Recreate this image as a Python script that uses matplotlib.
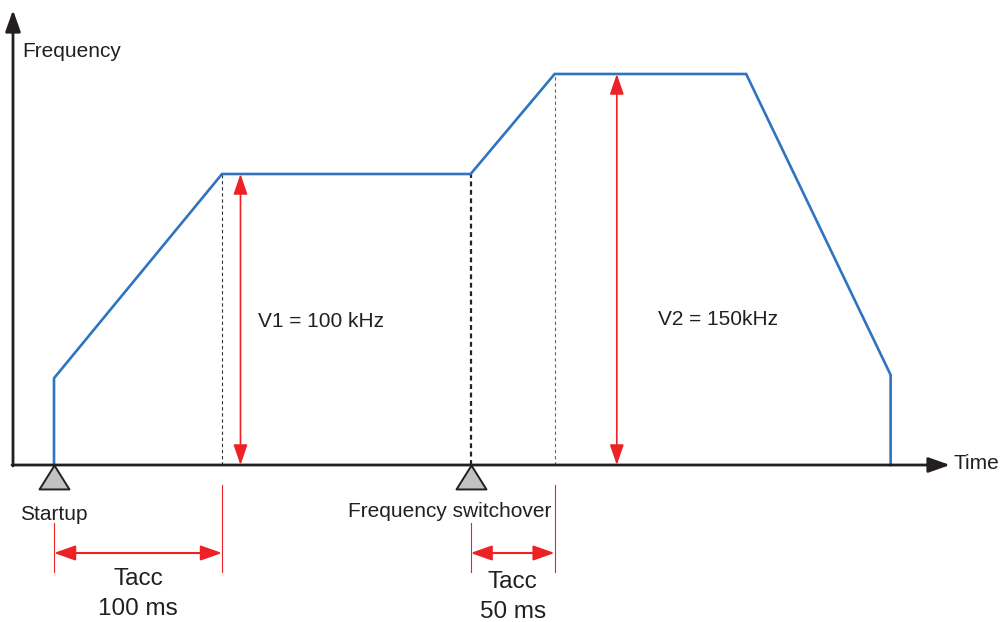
import numpy as np
import matplotlib
matplotlib.use("Agg")
import matplotlib.pyplot as plt
from matplotlib import transforms
from matplotlib.patches import FancyArrowPatch, ArrowStyle

plt.rcParams['font.family'] = ['Liberation Sans', 'DejaVu Sans']

# Speed profile: time (ms) vs output frequency (kHz)
time_ms = [0, 0, 100, 248, 298, 412, 498, 498]
freq_khz = [0, 19, 100, 100, 150, 150, 20, 0]

startup_ms = 0
switch_ms = 248
tacc1_ms = 100
tacc2_ms = 50
v1_khz = 100
v2_khz = 150

v1_label = "V1 = 100 kHz"
v2_label = "V2 = 150kHz"
tacc1_label = "Tacc\n100 ms"
tacc2_label = "Tacc\n50 ms"

BLUE = '#2f73c1'
RED = '#ed2224'
INK = '#231f20'
GREY_FILL = '#c2c2c2'

W, H, DPI = 1002, 622, 100
fig = plt.figure(figsize=(W / DPI, H / DPI), dpi=DPI)
ax = fig.add_axes([0, 0, 1, 1])
ax.set_axis_off()

# schematic (compressed) frequency axis
P = 0.7286
def fwd(f):
    f = np.asarray(f, dtype=float)
    return np.sign(f) * np.abs(f) ** P
def inv(u):
    u = np.asarray(u, dtype=float)
    return np.sign(u) * np.abs(u) ** (1.0 / P)
ax.set_yscale('function', functions=(fwd, inv))

x0_px, px_per_ms = 54, 1.68
base_px = 465
px_per_u = 291 / float(fwd(100))
ax.set_xlim(-x0_px / px_per_ms, (W - x0_px) / px_per_ms)
ax.set_ylim(float(inv(-(H - base_px) / px_per_u)), float(inv(base_px / px_per_u)))

# pixel transform measured from the top-left corner
tp = transforms.Affine2D().scale(1, -1).translate(0, H)
bx = transforms.blended_transform_factory(ax.transData, tp)

t_v1 = startup_ms + tacc1_ms
t_v2 = switch_ms + tacc2_ms

# axes with arrow heads
axis_style = ArrowStyle('-|>', head_length=13, head_width=4.6)
ax.add_patch(FancyArrowPatch((13, base_px + 1), (13, 10), transform=tp,
                             arrowstyle=axis_style, mutation_scale=1, lw=2,
                             color=INK, shrinkA=0, shrinkB=0, zorder=5))
ax.add_patch(FancyArrowPatch((12, base_px), (950, base_px), transform=tp,
                             arrowstyle=axis_style, mutation_scale=1, lw=2,
                             color=INK, shrinkA=0, shrinkB=0, zorder=5))
fig.text(22, H - 57, "Frequency", transform=None, fontsize=15, color=INK,
         ha='left', va='baseline')
fig.text(954, H - 469, "Time", transform=None, fontsize=15, color=INK,
         ha='left', va='baseline')

# guide lines
ax.plot([t_v1, t_v1], [0, v1_khz], ls=(0, (3, 2.5)), color='#333333', lw=0.8, zorder=2)
ax.plot([switch_ms, switch_ms], [0, v1_khz], ls=(0, (2.2, 1.6)), color='#222222', lw=1.6, zorder=2)
ax.plot([t_v2, t_v2], [0, v2_khz], ls=(0, (3, 2.5)), color='#666666', lw=0.8, zorder=2)

# frequency profile
ax.plot(time_ms, freq_khz, color=BLUE, lw=1.9, solid_joinstyle='miter', zorder=4)

# velocity dimension arrows
red_style = ArrowStyle('<|-|>', head_length=12.5, head_width=4.3)
ax.add_patch(FancyArrowPatch((t_v1 + 11, 0), (t_v1 + 11, v1_khz), transform=ax.transData,
                             arrowstyle=red_style, mutation_scale=1, lw=1.2, color=RED,
                             shrinkA=0, shrinkB=0, zorder=3))
ax.add_patch(FancyArrowPatch((t_v2 + 37, 0), (t_v2 + 37, v2_khz), transform=ax.transData,
                             arrowstyle=red_style, mutation_scale=1, lw=1.2, color=RED,
                             shrinkA=0, shrinkB=0, zorder=3))
ax.text(t_v1 + 21.5, 327, v1_label, transform=bx, fontsize=15, color=INK,
        ha='left', va='baseline')
ax.text(t_v2 + 61.5, 325, v2_label, transform=bx, fontsize=15, color=INK,
        ha='left', va='baseline')

# event markers on the time axis
tri = [(0, 0), (-15, -24), (15, -24), (0, 0)]
ax.plot([startup_ms, switch_ms], [0, 0], ls='none', marker=tri, markersize=34.5,
        markerfacecolor=GREY_FILL, markeredgecolor=INK, markeredgewidth=1.4,
        clip_on=False, zorder=6)
ax.text(startup_ms, 520, "Startup", transform=bx, fontsize=15, color=INK,
        ha='center', va='baseline')
ax.text(switch_ms - 12.5, 517, "Frequency switchover", transform=bx, fontsize=15,
        color=INK, ha='center', va='baseline')

# acceleration time dimensions
hstyle = ArrowStyle('<|-|>', head_length=13, head_width=4.6)
for t_start, t_len, label, y_txt in [(startup_ms, tacc1_ms, tacc1_label, 585),
                                      (switch_ms, tacc2_ms, tacc2_label, 588)]:
    t_end = t_start + t_len
    ax.plot([t_start, t_start], [523, 572], transform=bx, color=RED, lw=0.8)
    ax.plot([t_end, t_end], [485, 572], transform=bx, color=RED, lw=0.8)
    ax.add_patch(FancyArrowPatch((t_start, 553), (t_end, 553), transform=bx,
                                 arrowstyle=hstyle, mutation_scale=1, lw=1.5,
                                 color=RED, shrinkA=0, shrinkB=0))
    top, bottom = label.split("\n")
    ax.text(t_start + t_len / 2, y_txt, top, transform=bx, fontsize=17.5,
            color=INK, ha='center', va='baseline')
    ax.text(t_start + t_len / 2, y_txt + 30, bottom, transform=bx, fontsize=17.5,
            color=INK, ha='center', va='baseline')

fig.savefig("out.png", dpi=DPI)
